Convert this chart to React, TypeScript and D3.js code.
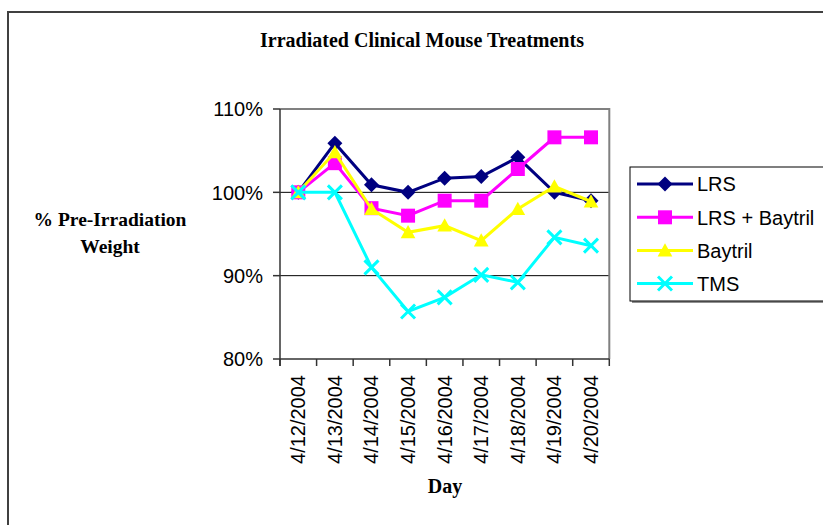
import * as d3 from 'd3';

// data (fraction of pre-irradiation weight)
const days = ['4/12/2004', '4/13/2004', '4/14/2004', '4/15/2004', '4/16/2004', '4/17/2004', '4/18/2004', '4/19/2004', '4/20/2004'];
const lrs = [1.0, 1.059, 1.009, 1.0, 1.017, 1.019, 1.042, 1.0, 0.99];
const lrsBaytril = [1.0, 1.035, 0.981, 0.972, 0.99, 0.99, 1.028, 1.066, 1.066];
const baytril = [1.0, 1.048, 0.98, 0.952, 0.96, 0.942, 0.98, 1.007, 0.989];
const tms = [1.0, 1.0, 0.91, 0.857, 0.874, 0.901, 0.892, 0.946, 0.936];
const yTicks = [0.8, 0.9, 1.0, 1.1];

const W = 823;
const H = 525;
const plot = { left: 280, right: 609.3, top: 109, bottom: 359 };

const SANS = '"Liberation Sans", Arial, sans-serif';
const SERIF = '"Liberation Serif", "Times New Roman", serif';

// custom marker shapes for d3.symbol
const diamond = {
  draw(ctx: any, size: number) {
    const r = Math.sqrt(size) / 2;
    ctx.moveTo(0, -r); ctx.lineTo(r, 0); ctx.lineTo(0, r); ctx.lineTo(-r, 0); ctx.closePath();
  },
};
const square = {
  draw(ctx: any, size: number) {
    const r = Math.sqrt(size) / 2;
    ctx.rect(-r, -r, 2 * r, 2 * r);
  },
};
const triangle = {
  draw(ctx: any, size: number) {
    const r = Math.sqrt(size) / 2;
    ctx.moveTo(0, -r * 1.05); ctx.lineTo(r * 1.05, r * 0.85); ctx.lineTo(-r * 1.05, r * 0.85); ctx.closePath();
  },
};
const cross = {
  draw(ctx: any, size: number) {
    const r = Math.sqrt(size) / 2;
    ctx.moveTo(-r, -r); ctx.lineTo(r, r); ctx.moveTo(r, -r); ctx.lineTo(-r, r);
  },
};

const series = [
  { name: 'LRS', values: lrs, color: '#000080', shape: diamond, size: 15 * 15, filled: true },
  { name: 'LRS + Baytril', values: lrsBaytril, color: '#FF00FF', shape: square, size: 14 * 14, filled: true },
  { name: 'Baytril', values: baytril, color: '#FFFF00', shape: triangle, size: 14 * 14, filled: true },
  { name: 'TMS', values: tms, color: '#00FFFF', shape: cross, size: 14 * 14, filled: false },
];

export default function App() {
  const x = d3.scaleBand<string>().domain(days).range([plot.left, plot.right]).padding(0);
  const y = d3.scaleLinear().domain([0.8, 1.1]).range([plot.bottom, plot.top]);
  const cx = (d: string) => (x(d) as number) + x.bandwidth() / 2;

  const line = d3.line<number>()
    .x((_, i) => cx(days[i]))
    .y(v => y(v));

  const legend = { x: 630, y: 167, h: 134, rowY: [184, 217.3, 250.5, 283.5] };

  return (
    <svg width={W} height={H} style={{ position: 'absolute', left: 0, top: 0, background: '#fff' }}>
      <rect x={0} y={0} width={W} height={H} fill="#fff" />
      {/* outer chart frame, runs off the picture on right and bottom */}
      <path d={`M8,${H + 10} V12 H${W + 10}`} fill="none" stroke="#404040" strokeWidth={2} />

      <text x={422} y={47} textAnchor="middle" fontFamily={SERIF} fontWeight="bold" fontSize={20}>
        Irradiated Clinical Mouse Treatments
      </text>

      {/* gridlines */}
      {[0.9, 1.0].map(t => (
        <line key={t} x1={plot.left} x2={plot.right} y1={y(t)} y2={y(t)} stroke="#000" strokeWidth={1} />
      ))}
      {/* plot border (top/right) */}
      <path d={`M${plot.left},${plot.top} H${plot.right} V${plot.bottom}`} fill="none" stroke="#808080" strokeWidth={2} />

      {/* y axis */}
      <line x1={plot.left} x2={plot.left} y1={plot.top} y2={plot.bottom + 7} stroke="#333" strokeWidth={1.5} />
      {yTicks.map(t => (
        <g key={t}>
          <line x1={plot.left - 7} x2={plot.left} y1={y(t)} y2={y(t)} stroke="#333" strokeWidth={1.5} />
          <text x={263} y={y(t)} dy="0.36em" textAnchor="end" fontFamily={SANS} fontSize={20}>
            {d3.format('.0%')(t)}
          </text>
        </g>
      ))}

      {/* x axis */}
      <line x1={plot.left} x2={plot.right} y1={plot.bottom} y2={plot.bottom} stroke="#333" strokeWidth={1.5} />
      {[...days.map(d => x(d) as number), plot.right].map((px, i) => (
        <line key={i} x1={px} x2={px} y1={plot.bottom} y2={plot.bottom + 7} stroke="#333" strokeWidth={1.5} />
      ))}
      {days.map(d => (
        <text key={d} transform={`translate(${cx(d) + 7},375) rotate(-90)`} textAnchor="end"
          fontFamily={SANS} fontSize={20}>
          {d}
        </text>
      ))}

      <text x={110} y={226} textAnchor="middle" fontFamily={SERIF} fontWeight="bold" fontSize={19.5}>
        % Pre-Irradiation
      </text>
      <text x={110} y={253} textAnchor="middle" fontFamily={SERIF} fontWeight="bold" fontSize={19.5}>
        Weight
      </text>
      <text x={445} y={493} textAnchor="middle" fontFamily={SERIF} fontWeight="bold" fontSize={20}>
        Day
      </text>

      {/* series */}
      {series.map(s => (
        <g key={s.name}>
          <path d={line(s.values) as string} fill="none" stroke={s.color} strokeWidth={3} />
          {s.values.map((v, i) => (
            <path key={i} transform={`translate(${cx(days[i])},${y(v)})`}
              d={d3.symbol().type(s.shape as any).size(s.size)() as string}
              fill={s.filled ? s.color : 'none'} stroke={s.filled ? 'none' : s.color} strokeWidth={3} />
          ))}
        </g>
      ))}

      {/* legend */}
      <rect x={legend.x + 2} y={legend.y + 2} width={W} height={legend.h} fill="#909090" />
      <rect x={legend.x} y={legend.y} width={W} height={legend.h} fill="#fff" stroke="#000" strokeWidth={1} />
      {series.map((s, i) => (
        <g key={s.name}>
          <line x1={637} x2={693} y1={legend.rowY[i]} y2={legend.rowY[i]} stroke={s.color} strokeWidth={3} />
          <path transform={`translate(665,${legend.rowY[i]})`}
            d={d3.symbol().type(s.shape as any).size(s.size)() as string}
            fill={s.filled ? s.color : 'none'} stroke={s.filled ? 'none' : s.color} strokeWidth={3} />
          <text x={697} y={legend.rowY[i]} dy="0.36em" fontFamily={SANS} fontSize={20}>{s.name}</text>
        </g>
      ))}
    </svg>
  );
}
